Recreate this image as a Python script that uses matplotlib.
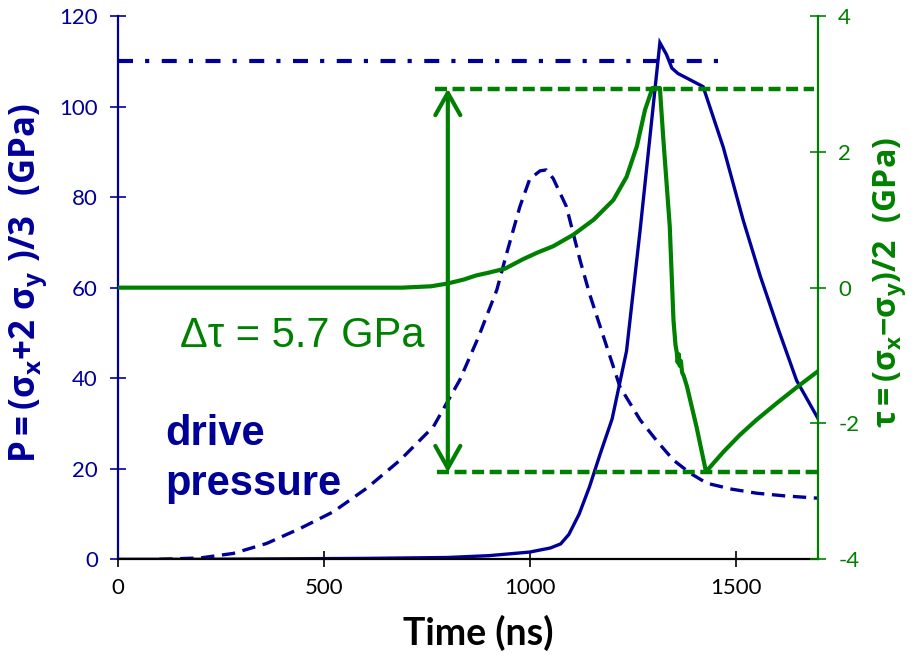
import numpy as np
import matplotlib
matplotlib.use("Agg")
import matplotlib.pyplot as plt

plt.rcParams['font.family'] = ['Lato', 'DejaVu Sans']
plt.rcParams['axes.unicode_minus'] = False
plt.rcParams['mathtext.fontset'] = 'custom'
plt.rcParams['mathtext.rm'] = 'Open Sans'
plt.rcParams['mathtext.bf'] = 'Open Sans:bold'
plt.rcParams['mathtext.it'] = 'Open Sans:italic'

BLUE = '#000099'
GREEN = '#008000'

# ------------------------------
# pressure P (GPa) vs time (ns)
# ------------------------------
t_p = [0, 200, 400, 600, 800, 900, 1000, 1050, 1075, 1095, 1120, 1145, 1170,
       1200, 1235, 1268, 1316, 1332, 1345, 1360, 1421, 1470, 1518, 1560, 1603,
       1648, 1700]
p_sample = [0, 0, 0.1, 0.2, 0.4, 0.8, 1.6, 2.5, 3.4, 5.5, 10, 16, 23,
            31, 46, 72.7, 114.1, 111.5, 108.5, 107.3, 104.4, 91, 75, 62.5, 51,
            39.5, 31.1]

# drive pressure (dashed)
t_drive = [100, 200, 280, 361, 442, 523, 604, 685, 766, 830, 875, 920, 944,
           976, 1000, 1025, 1040, 1057, 1089, 1122, 1146, 1180, 1219, 1268,
           1310, 1349, 1390, 1430, 1490, 1551, 1620, 1700]
p_drive = [0, 0.3, 1.3, 3.5, 6.8, 10.5, 15.7, 21.9, 29.3, 39.6, 49, 59.5, 67.6,
           77.9, 84, 85.8, 86, 84.1, 77.9, 66.1, 58.4, 48.9, 38.1, 30.8,
           26, 21.9, 19, 16.8, 15.5, 14.6, 14, 13.5]

# shear stress tau (GPa)
t_tau = [0, 690, 760, 800, 840, 870, 900, 940, 984, 1020, 1057, 1106, 1155,
         1203, 1235, 1260, 1280, 1298, 1316, 1324, 1340, 1349, 1354, 1357,
         1359, 1362, 1364, 1367, 1370, 1374, 1382, 1405, 1428, 1470, 1510,
         1550, 1600, 1650, 1700]
tau = [0, 0, 0.02, 0.06, 0.12, 0.18, 0.22, 0.28, 0.42, 0.52, 0.61, 0.78, 1.0,
       1.29, 1.63, 2.08, 2.62, 2.94, 2.94, 2.22, 0.9, -0.48, -0.85, -0.95,
       -1.1, -0.98, -1.15, -1.08, -1.25, -1.3, -1.46, -2.05, -2.71, -2.42,
       -2.17, -1.95, -1.70, -1.46, -1.23]

p_limit = 110.0          # dash-dot reference level
tau_hi, tau_lo = 2.93, -2.72
t_arrow = 801

fig = plt.figure(figsize=(9.19, 6.55), dpi=100)
ax = fig.add_axes([118 / 919, 1 - 559.3 / 655, 700 / 919, (559.3 - 16) / 655])
ax2 = ax.twinx()

ax.plot(t_p, p_sample, color=BLUE, lw=2.4, solid_joinstyle='miter')
ax.plot(t_drive, p_drive, color=BLUE, lw=2.4, dashes=(4, 2.3))
ax.plot([0, 1460], [p_limit, p_limit], color=BLUE, lw=3,
        dashes=(3.6, 2.9, 1.0, 3.0))

ax2.plot(t_tau, tau, color=GREEN, lw=3)
ax2.plot([770, 1690], [tau_hi, tau_hi], color=GREEN, lw=3.2, dashes=(2.7, 1.25))
ax2.plot([775, 1700], [tau_lo, tau_lo], color=GREEN, lw=3.2, dashes=(2.7, 1.25))
ax2.annotate('', xy=(t_arrow, tau_hi), xytext=(t_arrow, tau_lo),
             arrowprops=dict(arrowstyle='<->, head_length=0.8, head_width=0.45',
                             color=GREEN, lw=3, shrinkA=0, shrinkB=0,
                             mutation_scale=20))

ax.text(150, 46.9, 'Δτ = 5.7 GPa', color=GREEN, fontsize=30,
        family=['Liberation Sans', 'DejaVu Sans'], va='baseline')
ax.text(114, 25.2, 'drive', color=BLUE, fontsize=30, fontweight='bold',
        family=['Liberation Sans', 'DejaVu Sans'], va='baseline')
ax.text(114, 14.2, 'pressure', color=BLUE, fontsize=30, fontweight='bold',
        family=['Liberation Sans', 'DejaVu Sans'], va='baseline')

# axes limits and ticks
ax.set_xlim(0, 1700)
ax.set_ylim(0, 120)
ax2.set_ylim(-4, 4)
ax.set_xticks([0, 500, 1000, 1500])
ax.set_yticks(np.arange(0, 121, 20))
ax2.set_yticks(np.arange(-4, 5, 2))

for s in ['top', 'right']:
    ax.spines[s].set_visible(False)
for s in ['top', 'left', 'bottom']:
    ax2.spines[s].set_visible(False)
ax.spines['left'].set_color(BLUE)
ax.spines['left'].set_linewidth(1.6)
ax.spines['bottom'].set_color('black')
ax.spines['bottom'].set_linewidth(1.6)
ax2.spines['right'].set_color(GREEN)
ax2.spines['right'].set_linewidth(1.6)

ax.tick_params(axis='x', direction='inout', length=11, width=1.2,
               colors='black', labelsize=16, pad=8)
ax.tick_params(axis='y', direction='inout', length=11, width=1.2,
               colors=BLUE, labelsize=16, pad=9)
ax2.tick_params(axis='y', direction='inout', length=11, width=1.2,
                colors=GREEN, labelsize=16, pad=9)

fig.text(478 / 919, 1 - 633 / 655, 'Time (ns)', fontsize=27, fontweight='bold',
         ha='center', va='center')
fig.text(28 / 919, 1 - 283 / 655,
         r'$\mathbf{P = (σ_x{+}2\ σ_y\ )/3\ \ (GPa)}$',
         color=BLUE, fontsize=25, rotation=90, ha='center', va='center')
fig.text(890 / 919, 1 - 283 / 655,
         r'$\mathbf{τ = (σ_x{-}σ_y)/2\ \ (GPa)}$',
         color=GREEN, fontsize=23, rotation=90, ha='center', va='center')

fig.savefig('out.png', dpi=100)
